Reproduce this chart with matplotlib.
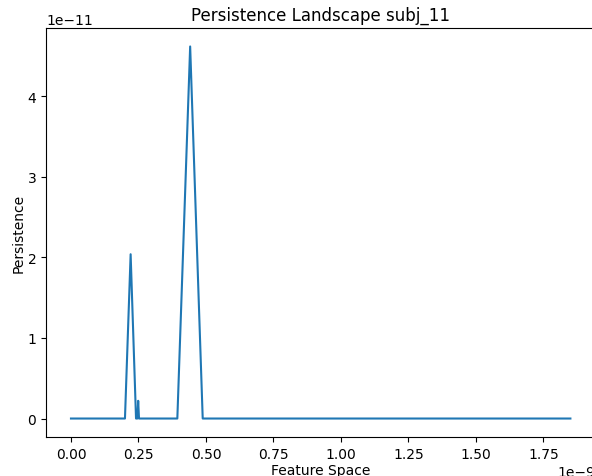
import numpy as np
import matplotlib
matplotlib.use('Agg')
import matplotlib.pyplot as plt

# landscape breakpoints (x in 1e-9, y in 1e-11)
feature = [0.0, 0.200, 0.221, 0.241, 0.246, 0.249, 0.252, 0.394, 0.4415, 0.488, 1.85]
persist = [0.0, 0.0, 2.04, 0.0, 0.0, 0.22, 0.0, 0.0, 4.62, 0.0, 0.0]

x = np.array(feature) * 1e-9
y = np.array(persist) * 1e-11

fig = plt.figure(figsize=(5.92, 4.77), dpi=100)
# original figure was cropped on the right, so the axes run past the edge
ax = fig.add_axes([0.0777, 0.0815, 0.928, 0.858])
ax.plot(x, y)
ax.set_title('Persistence Landscape subj_11')
ax.set_xlabel('Feature Space', labelpad=1.5)
ax.set_ylabel('Persistence', labelpad=1.5)

fig.savefig('out.png', dpi=100)
plt.close(fig)
